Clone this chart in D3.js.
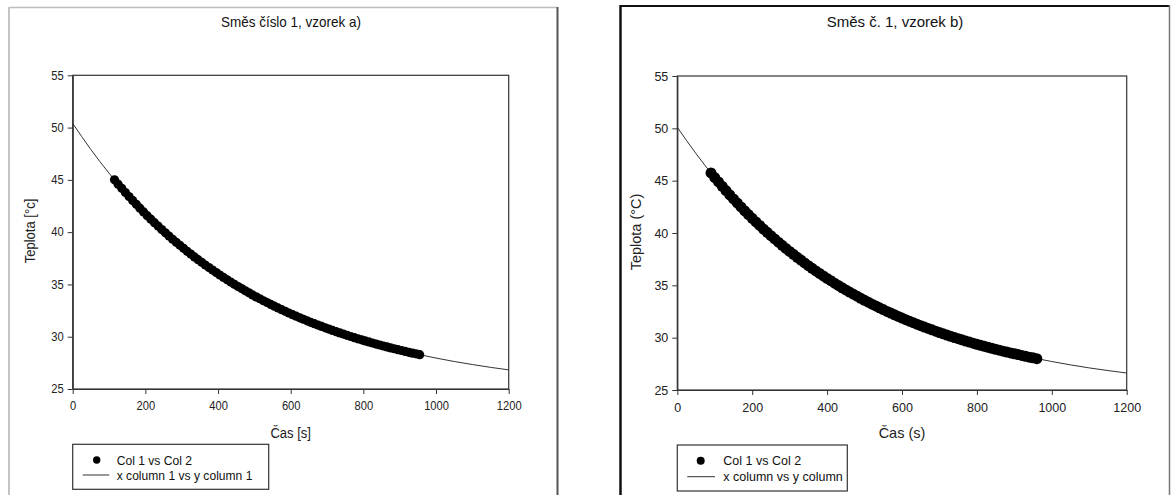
<!DOCTYPE html>
<html><head><meta charset="utf-8">
<script src="https://cdn.jsdelivr.net/npm/d3@7"></script>
<style>
html,body{margin:0;padding:0;background:#fff;}
svg{display:block;font-family:Arial,"Liberation Sans",sans-serif;}
</style></head>
<body><svg id="chart" width="1171" height="495"></svg>
<script>
// ---------- data ----------
const xTicks = [0, 200, 400, 600, 800, 1000, 1200];
const yTicks = [25, 30, 35, 40, 45, 50, 55];

const titleA = "Směs číslo 1, vzorek a)";
const xLabelA = "Čas [s]";
const yLabelA = "Teplota [°c]";
const legendA = ["Col 1 vs Col 2", "x column 1 vs y column 1"];

const titleB = "Směs č. 1, vzorek b)";
const xLabelB = "Čas (s)";
const yLabelB = "Teplota (°C)";
const legendB = ["Col 1 vs Col 2", "x column vs y column"];

// measured points (Col 1 vs Col 2), panel a
const scatterTimeA = [115,125,135,145,155,165,175,185,195,205,215,225,235,245,255,265,275,285,295,305,
315,325,335,345,355,365,375,385,395,405,415,425,435,445,455,465,475,485,495,505,
515,525,535,545,555,565,575,585,595,605,615,625,635,645,655,665,675,685,695,705,
715,725,735,745,755,765,775,785,795,805,815,825,835,845,855,865,875,885,895,905,
915,925,935,945,955];
const scatterTempA = [45.00,44.59,44.19,43.79,43.41,43.03,42.66,42.29,41.93,41.58,
41.24,40.91,40.58,40.25,39.94,39.63,39.32,39.03,38.74,38.45,
38.17,37.90,37.63,37.37,37.11,36.86,36.61,36.37,36.13,35.90,
35.67,35.45,35.23,35.01,34.80,34.60,34.39,34.20,34.00,33.81,
33.63,33.44,33.27,33.09,32.92,32.75,32.59,32.43,32.27,32.11,
31.96,31.81,31.67,31.52,31.38,31.25,31.11,30.98,30.85,30.73,
30.60,30.48,30.36,30.25,30.13,30.02,29.91,29.80,29.70,29.60,
29.50,29.40,29.30,29.21,29.11,29.02,28.93,28.85,28.76,28.68,
28.59,28.51,28.43,28.36,28.28];

// fitted curve (x column 1 vs y column 1), panel a
const lineTimeA = [0,50,100,150,200,250,300,350,400,450,500,550,600,650,700,750,800,850,900,950,1000,1050,1100,1150,1200];
const lineTempA = [50.40,47.90,45.64,43.60,41.76,40.09,38.59,37.23,36.01,34.90,33.90,33.00,32.19,31.45,30.79,30.19,29.65,29.16,28.71,28.32,27.96,27.63,27.34,27.07,26.83];

// measured points, panel b
const scatterTimeB = [90,100,110,120,130,140,150,160,170,180,190,200,210,220,230,240,250,260,270,280,
290,300,310,320,330,340,350,360,370,380,390,400,410,420,430,440,450,460,470,480,
490,500,510,520,530,540,550,560,570,580,590,600,610,620,630,640,650,660,670,680,
690,700,710,720,730,740,750,760,770,780,790,800,810,820,830,840,850,860,870,880,
890,900,910,920,930,940,950,960];
const scatterTempB = [45.74,45.30,44.88,44.46,44.05,43.65,43.25,42.87,42.49,42.12,
41.76,41.40,41.06,40.72,40.38,40.06,39.74,39.43,39.12,38.82,
38.53,38.24,37.96,37.68,37.41,37.14,36.88,36.63,36.38,36.14,
35.90,35.66,35.44,35.21,34.99,34.77,34.56,34.36,34.15,33.96,
33.76,33.57,33.39,33.20,33.03,32.85,32.68,32.51,32.35,32.19,
32.03,31.87,31.72,31.57,31.43,31.29,31.15,31.01,30.88,30.75,
30.62,30.49,30.37,30.25,30.13,30.01,29.90,29.79,29.68,29.58,
29.47,29.37,29.27,29.17,29.08,28.98,28.89,28.80,28.71,28.62,
28.54,28.46,28.38,28.30,28.22,28.14,28.07,27.99];

// fitted curve, panel b
const lineTimeB = [0,50,100,150,200,250,300,350,400,450,500,550,600,650,700,750,800,850,900,950,1000,1050,1100,1150,1200];
const lineTempB = [50.10,47.58,45.30,43.25,41.40,39.74,38.24,36.88,35.66,34.56,33.57,32.68,31.87,31.15,30.49,29.90,29.37,28.89,28.46,28.07,27.72,27.40,27.11,26.86,26.62];

// ---------- drawing ----------
const svg = d3.select("#chart");
svg.append("rect").attr("width",1171).attr("height",495).attr("fill","#fff");

function compress(sel, f){
  sel.each(function(){
    const L = this.getComputedTextLength();
    d3.select(this).attr("textLength", L*f).attr("lengthAdjust","spacingAndGlyphs");
  });
}

function drawPanel(cfg){
  const g = svg.append("g");
  // outer frame
  cfg.frame(g);

  const x = d3.scaleLinear().domain([0,1200]).range([cfg.left, cfg.right]);
  const y = d3.scaleLinear().domain([25,55]).range([cfg.bottom, cfg.top]);
  const texts = [];

  // title
  texts.push(g.append("text").attr("x", cfg.titleX).attr("y", cfg.titleY)
    .attr("text-anchor","middle").attr("font-size", cfg.titleSize).attr("fill","#111").text(cfg.title));

  // plot frame
  g.append("rect").attr("x",cfg.left).attr("y",cfg.top)
    .attr("width",cfg.right-cfg.left).attr("height",cfg.bottom-cfg.top)
    .attr("fill","none").attr("stroke","#333").attr("stroke-width",1.2);

  // axes
  const xa = g.append("g").attr("transform",`translate(0,${cfg.bottom})`)
    .call(d3.axisBottom(x).tickValues(xTicks).tickSize(5).tickSizeOuter(0).tickPadding(cfg.xPad).tickFormat(d3.format("d")));
  const ya = g.append("g").attr("transform",`translate(${cfg.left},0)`)
    .call(d3.axisLeft(y).tickValues(yTicks).tickSize(5).tickSizeOuter(0).tickPadding(4).tickFormat(d3.format("d")));
  [xa,ya].forEach(a=>{
    a.select(".domain").attr("stroke","#333").attr("stroke-width",1.2);
    a.selectAll(".tick line").attr("stroke","#333");
    a.selectAll(".tick text").attr("fill","#222").attr("font-size",cfg.tickSize)
      .attr("font-family","Arial,'Liberation Sans',sans-serif");
  });

  // axis titles
  texts.push(g.append("text").attr("x",(cfg.left+cfg.right)/2).attr("y",cfg.xLabelY)
    .attr("text-anchor","middle").attr("font-size",cfg.labelSize).attr("fill","#222").text(cfg.xLabel));
  texts.push(g.append("text").attr("transform",`translate(${cfg.yLabelX},${cfg.yLabelY}) rotate(-90)`)
    .attr("text-anchor","middle").attr("font-size",cfg.labelSize).attr("fill","#222").text(cfg.yLabel));

  // fitted line
  const line = d3.line().x((d,i)=>x(cfg.lineT[i])).y(d=>y(d)).curve(d3.curveMonotoneX);
  g.append("path").datum(cfg.lineV).attr("d",line).attr("fill","none")
    .attr("stroke","#333").attr("stroke-width",1);

  // scatter
  g.append("g").selectAll("circle").data(cfg.scT).join("circle")
    .attr("cx",d=>x(d)).attr("cy",(d,i)=>y(cfg.scV[i])).attr("r",cfg.r).attr("fill","#000");

  // legend
  const lg = cfg.legend;
  g.append("rect").attr("x",lg.x).attr("y",lg.y).attr("width",lg.w).attr("height",lg.h)
    .attr("fill","#fff").attr("stroke","#333").attr("stroke-width",1.2);
  g.append("circle").attr("cx",lg.dotX).attr("cy",lg.row1).attr("r",lg.dotR).attr("fill","#000");
  g.append("line").attr("x1",lg.lineX1).attr("x2",lg.lineX2).attr("y1",lg.row2).attr("y2",lg.row2)
    .attr("stroke","#333").attr("stroke-width",1);
  texts.push(g.append("text").attr("x",lg.textX).attr("y",lg.row1).attr("dy","0.35em")
    .attr("font-size",lg.size).attr("fill","#111").text(cfg.legendText[0]));
  texts.push(g.append("text").attr("x",lg.textX).attr("y",lg.row2).attr("dy","0.35em")
    .attr("font-size",lg.size).attr("fill","#111").text(cfg.legendText[1]));

  if (cfg.squeeze < 1){
    texts.forEach(t=>compress(t, cfg.squeeze));
    compress(xa.selectAll(".tick text"), cfg.squeeze);
    compress(ya.selectAll(".tick text"), cfg.squeeze);
  }
}

drawPanel({
  frame: g=>{
    g.append("line").attr("x1",9).attr("x2",557).attr("y1",7.5).attr("y2",7.5).attr("stroke","#bdbdbd").attr("stroke-width",1.5);
    g.append("line").attr("x1",9).attr("x2",9).attr("y1",7).attr("y2",495).attr("stroke","#c4c4c4").attr("stroke-width",2);
    g.append("line").attr("x1",557.5).attr("x2",557.5).attr("y1",7).attr("y2",495).attr("stroke","#555").attr("stroke-width",2);
  },
  left:72.7, right:508.7, top:75.3, bottom:389,
  title:titleA, titleX:291, titleY:27, titleSize:14.5,
  xLabel:xLabelA, yLabel:yLabelA, xLabelY:438, yLabelX:35, yLabelY:231, labelSize:14,
  tickSize:12, xPad:7, squeeze:0.93,
  lineT:lineTimeA, lineV:lineTempA, scT:scatterTimeA, scV:scatterTempA, r:4.6,
  legendText:legendA,
  legend:{x:72.7,y:444.3,w:196,h:45,dotX:96.7,row1:460,dotR:3.7,lineX1:82.7,lineX2:109.3,row2:475,textX:116.7,size:13}
});

drawPanel({
  frame: g=>{
    g.append("line").attr("x1",620).attr("x2",1170).attr("y1",6).attr("y2",6).attr("stroke","#111").attr("stroke-width",2);
    g.append("line").attr("x1",620.5).attr("x2",620.5).attr("y1",5).attr("y2",495).attr("stroke","#111").attr("stroke-width",2.5);
    g.append("line").attr("x1",1169.5).attr("x2",1169.5).attr("y1",5).attr("y2",495).attr("stroke","#777").attr("stroke-width",1.5);
  },
  left:677.3, right:1126.7, top:76, bottom:390,
  title:titleB, titleX:895, titleY:27, titleSize:15,
  xLabel:xLabelB, yLabel:yLabelB, xLabelY:438, yLabelX:641, yLabelY:232, labelSize:14.5,
  tickSize:12.5, xPad:8, squeeze:1,
  lineT:lineTimeB, lineV:lineTempB, scT:scatterTimeB, scV:scatterTempB, r:5.5,
  legendText:legendB,
  legend:{x:677.3,y:445,w:170,h:46,dotX:700.7,row1:460.7,dotR:4,lineX1:687.3,lineX2:715,row2:476.7,textX:723.3,size:12.5}
});
</script></body></html>
